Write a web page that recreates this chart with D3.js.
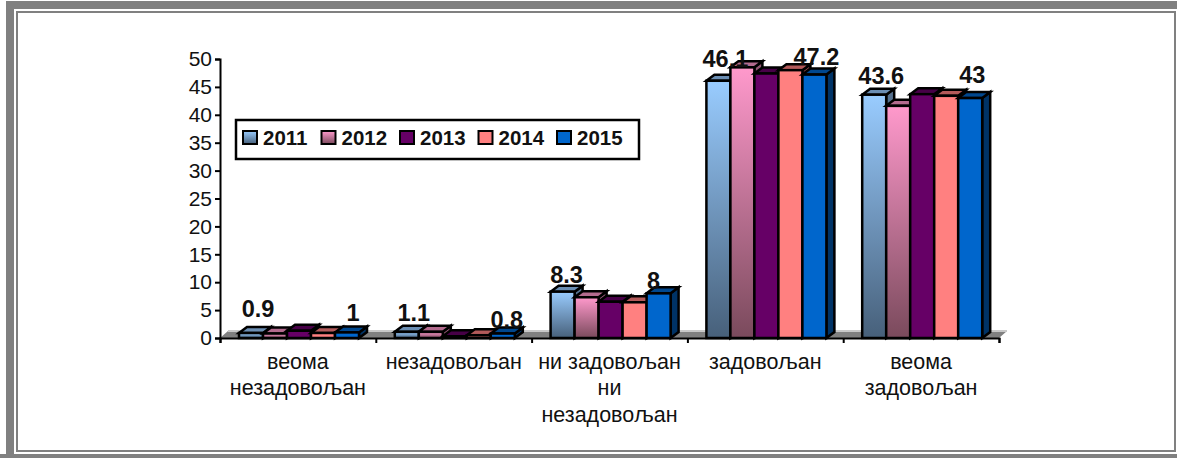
<!DOCTYPE html>
<html>
<head>
<meta charset="utf-8">
<title>Задовољство</title>
<script src="https://cdn.jsdelivr.net/npm/d3@7"></script>
<style>
  body { margin: 0; background: #fff; overflow: hidden; }
  svg { display: block; font-family: "Liberation Sans", Arial, sans-serif; }
</style>
</head>
<body>
<div id="container"></div>
<script>
// Data
const categories = ["веома незадовољан", "незадовољан", "ни задовољан ни незадовољан", "задовољан", "веома задовољан"];
const years = ["2011", "2012", "2013", "2014", "2015"];
const v2011 = [0.9, 1.1, 8.3, 46.1, 43.6];
const v2012 = [0.8, 1.1, 7.3, 48.5, 41.6];
const v2013 = [1.3, 0.3, 6.5, 47.4, 43.7];
const v2014 = [0.9, 0.5, 6.4, 48, 43.4];
const v2015 = [1, 0.8, 8, 47.2, 43];
const yTicks = [0, 5, 10, 15, 20, 25, 30, 35, 40, 45, 50];
const catLines = [["веома", "незадовољан"], ["незадовољан"], ["ни задовољан", "ни", "незадовољан"], ["задовољан"], ["веома", "задовољан"]];

const seriesValues = [v2011, v2012, v2013, v2014, v2015];

// Face colours per series
const frontTop = ["#99ccff", "#ff99cc", "#660066", "#ff8080", "#0066cc"];
const frontBottom = ["#47607a", "#7a4a5c", "#660066", "#ff8080", "#0066cc"];
const topFace = ["#6b8eb3", "#b36b8e", "#470047", "#b35a5a", "#00478e"];
const sideFace = ["#56718f", "#8f5672", "#3d003d", "#994d4d", "#003366"];

const width = 1177, height = 458;
const depthX = 8, depthY = 6;

const svg = d3.select("#container").append("svg")
  .attr("width", width)
  .attr("height", height);

// Double frame round the picture
const frame = svg.append("g").attr("fill", "#808080");
frame.append("rect").attr("x", 6).attr("y", 1).attr("width", 1171).attr("height", 8);
frame.append("rect").attr("x", 6).attr("y", 1).attr("width", 8).attr("height", 457);
frame.append("rect").attr("x", 0).attr("y", 454).attr("width", 1177).attr("height", 4);
svg.append("rect")
  .attr("x", 17).attr("y", 12).attr("width", 1158).attr("height", 439)
  .attr("fill", "none").attr("stroke", "#808080").attr("stroke-width", 2);

const defs = svg.append("defs");
years.forEach((yr, i) => {
  const g = defs.append("linearGradient")
    .attr("id", "grad" + yr)
    .attr("x1", 0).attr("y1", 0).attr("x2", 0).attr("y2", 1);
  g.append("stop").attr("offset", "0%").attr("stop-color", frontTop[i]);
  g.append("stop").attr("offset", "100%").attr("stop-color", frontBottom[i]);
});

// Scales
const x0 = d3.scaleBand().domain(categories).range([220, 999]);
const x1 = d3.scaleBand().domain(years).range([19, 139]);
const xEdge = d3.scaleLinear().domain([0, categories.length]).range([220, 999]);
const y = d3.scaleLinear().domain([0, 50]).range([338, 59]);

// Floor
const floorPts = [
  [xEdge(0), y(0)],
  [xEdge(0) + depthX, y(0) - depthY - 1],
  [xEdge(5) + depthX, y(0) - depthY - 1],
  [xEdge(5), y(0)]
];
svg.append("polygon")
  .attr("points", floorPts.join(" "))
  .attr("fill", "#808080");
svg.append("line")
  .attr("x1", floorPts[1][0]).attr("x2", floorPts[2][0])
  .attr("y1", floorPts[1][1]).attr("y2", floorPts[2][1])
  .attr("stroke", "#c8c8c8").attr("stroke-width", 2);

// Y axis
const yAxis = svg.append("g")
  .attr("transform", `translate(${xEdge(0)},0)`)
  .call(d3.axisLeft(y).tickValues(yTicks).tickSize(5).tickSizeOuter(5).tickPadding(3));
yAxis.selectAll("path, line").attr("stroke", "#000").attr("stroke-width", 2);
yAxis.selectAll("text").attr("font-size", 21).attr("font-family", "Liberation Sans").attr("fill", "#111");

// X axis, ticks on the category edges
const xAxis = svg.append("g")
  .attr("transform", `translate(0,${y(0)})`)
  .call(d3.axisBottom(xEdge).ticks(5).tickSize(5).tickSizeOuter(5).tickFormat(""));
xAxis.selectAll("path, line").attr("stroke", "#000").attr("stroke-width", 2);

// Category labels, wrapped as in the original
const catLabels = svg.append("g").attr("font-size", 21.5).attr("fill", "#111").attr("text-anchor", "middle");
categories.forEach((c, i) => {
  const t = catLabels.append("text")
    .attr("x", x0(c) + x0.bandwidth() / 2)
    .attr("y", 368.5);
  catLines[i].forEach((line, k) => {
    t.append("tspan")
      .attr("x", x0(c) + x0.bandwidth() / 2)
      .attr("dy", k === 0 ? 0 : 26.8)
      .text(line);
  });
});

// Bars, left to right so later bars cover the side of earlier ones
const bars = svg.append("g").attr("stroke", "#000").attr("stroke-width", 2.5).attr("stroke-linejoin", "miter");
categories.forEach((c, ci) => {
  years.forEach((yr, si) => {
    const v = seriesValues[si][ci];
    const left = x0(c) + x1(yr);
    const right = left + x1.bandwidth();
    const top = y(v);
    const base = y(0);
    const g = bars.append("g");
    g.append("polygon")
      .attr("points", [[right, top], [right + depthX, top - depthY], [right + depthX, base - depthY], [right, base]].join(" "))
      .attr("fill", sideFace[si]);
    g.append("polygon")
      .attr("points", [[left, top], [left + depthX, top - depthY], [right + depthX, top - depthY], [right, top]].join(" "))
      .attr("fill", topFace[si]);
    g.append("rect")
      .attr("x", left).attr("y", top)
      .attr("width", x1.bandwidth()).attr("height", base - top)
      .attr("fill", `url(#grad${yr})`);
  });
});

// Value labels only on the first and last series; offsets follow the original's placement
const labelSeries = [0, 4];
const labelDx = [[7, 6], [7, 4], [4, -5], [7, 2], [7, 2]];
const labelDy = [[16, 11], [11, 6], [9, 4], [14, 10], [11, 15]];
const valLabels = svg.append("g")
  .attr("font-size", 23.5).attr("font-weight", "bold").attr("fill", "#111").attr("text-anchor", "middle");
categories.forEach((c, ci) => {
  labelSeries.forEach((si, k) => {
    const v = seriesValues[si][ci];
    valLabels.append("text")
      .attr("x", x0(c) + x1(years[si]) + x1.bandwidth() / 2 + labelDx[ci][k])
      .attr("y", y(v) - labelDy[ci][k])
      .text(v);
  });
});

// Legend
const legend = svg.append("g");
legend.append("rect")
  .attr("x", 236).attr("y", 120).attr("width", 403).attr("height", 39)
  .attr("fill", "#fff").attr("stroke", "#000").attr("stroke-width", 2.5);
const legendX = d3.scalePoint().domain(years).range([243, 557]);
years.forEach((yr) => {
  legend.append("rect")
    .attr("x", legendX(yr)).attr("y", 131).attr("width", 14).attr("height", 13)
    .attr("fill", `url(#grad${yr})`).attr("stroke", "#000").attr("stroke-width", 2);
  legend.append("text")
    .attr("x", legendX(yr) + 20).attr("y", 145)
    .attr("font-size", 20.5).attr("font-weight", "bold").attr("fill", "#111")
    .text(yr);
});
</script>
</body>
</html>
